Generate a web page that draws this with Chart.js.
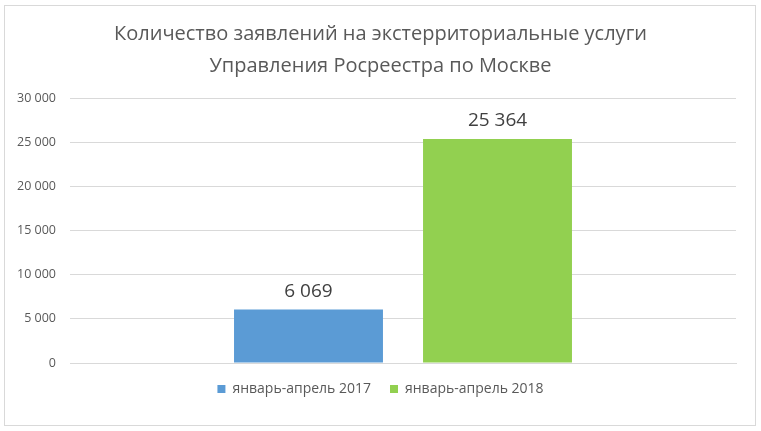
<!DOCTYPE html>
<html>
<head>
<meta charset="utf-8">
<script src="https://cdn.jsdelivr.net/npm/chart.js@4"></script>
<style>
    html, body { margin: 0; padding: 0; background: #fff; }
    #wrap { width: 761px; height: 431px; position: relative; }
</style>
</head>
<body>
<div id="wrap"><canvas id="myChart"></canvas></div>
<script>
// data
const categories = [""];
const seriesNames = ["январь-апрель 2017", "январь-апрель 2018"];
const seriesValues = [[6069], [25364]];
const seriesColors = ["#5B9BD5", "#92D050"];
const titleLines = [
    "Количество заявлений на экстерриториальные услуги",
    "Управления Росреестра по Москве",
];
const yTicks = { min: 0, max: 30000, step: 5000 };

const FONT = "'Open Sans', sans-serif";

// 25364 -> "25 364"
const formatNumber = (value) =>
    String(Math.round(value)).replace(/\B(?=(\d{3})+(?!\d))/g, " ");

// frame round the whole chart
const frame = {
    id: "frame",
    beforeDraw: (chart) => {
        const ctx = chart.ctx;
        ctx.save();
        ctx.fillStyle = "#fff";
        ctx.fillRect(0, 0, chart.width, chart.height);
        ctx.strokeStyle = "#d9d9d9";
        ctx.lineWidth = 1;
        ctx.strokeRect(4.5, 5.5, 751, 420);
        ctx.restore();
    },
};

// value above each bar
const valueLabels = {
    id: "valueLabels",
    afterDatasetsDraw: (chart) => {
        const ctx = chart.ctx;
        ctx.save();
        ctx.font = "19px " + FONT;
        ctx.fillStyle = "#404040";
        ctx.textAlign = "center";
        ctx.textBaseline = "middle";
        chart.data.datasets.forEach((dataset, i) => {
            chart.getDatasetMeta(i).data.forEach((bar, j) => {
                ctx.fillText(formatNumber(dataset.data[j]), bar.x, bar.y - 18);
            });
        });
        ctx.restore();
    },
};

const datasets = seriesNames.map((name, i) => ({
    label: name,
    data: seriesValues[i],
    backgroundColor: seriesColors[i],
    categoryPercentage: 0.5676,
    barPercentage: 0.788,
}));

const ctx = document.getElementById("myChart").getContext("2d");
const myChart = new Chart(ctx, {
    type: "bar",
    data: { labels: categories, datasets: datasets },
    options: {
        responsive: true,
        maintainAspectRatio: false,
        animation: false,
        layout: { padding: { left: 10, right: 10, top: 1, bottom: 25 } },
        plugins: {
            title: {
                display: true,
                text: titleLines,
                color: "#595959",
                font: { family: FONT, size: 20, weight: "normal", lineHeight: 1.6 },
                padding: { top: 17, bottom: 16 },
            },
            legend: {
                position: "bottom",
                labels: {
                    boxWidth: 8,
                    boxHeight: 8,
                    padding: 19,
                    color: "#595959",
                    font: { family: FONT, size: 14 },
                },
            },
            tooltip: { enabled: false },
        },
        scales: {
            x: {
                ticks: { display: false },
                grid: { display: false, drawTicks: false },
                border: { color: "#d9d9d9" },
            },
            y: {
                min: yTicks.min,
                max: yTicks.max,
                ticks: {
                    stepSize: yTicks.step,
                    color: "#595959",
                    padding: 14,
                    font: { family: FONT, size: 12.5 },
                    callback: (value) => formatNumber(value),
                },
                grid: { color: "#d9d9d9", drawTicks: false },
                border: { display: false },
                afterFit: (scale) => { scale.width = 60; },
            },
            // empty right margin so the plot ends where the reference does
            yRight: {
                position: "right",
                min: yTicks.min,
                max: yTicks.max,
                ticks: { display: false },
                grid: { display: false, drawTicks: false },
                border: { display: false },
                afterFit: (scale) => { scale.width = 15; },
            },
        },
    },
    plugins: [frame, valueLabels],
});
</script>
</body>
</html>
